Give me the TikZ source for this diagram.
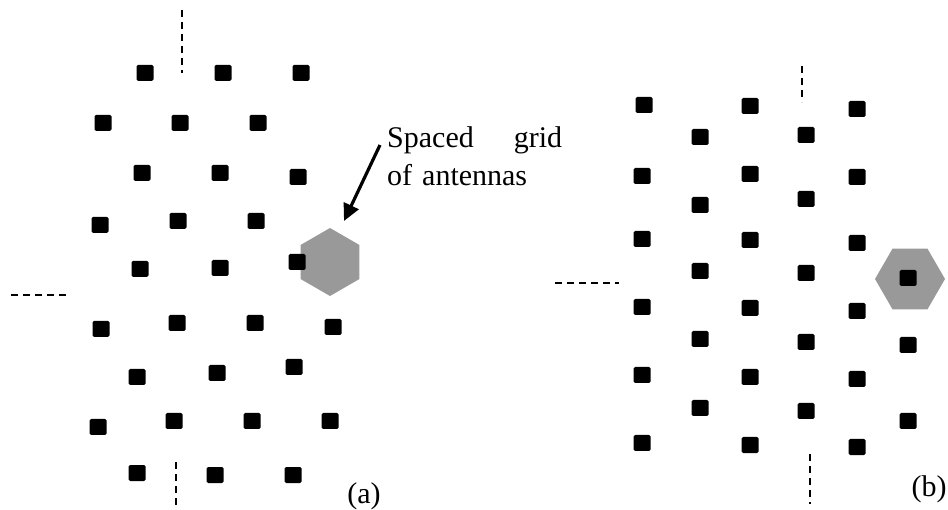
\documentclass[tikz,border=0pt]{standalone}
\usepackage{fontspec}
\setmainfont{Liberation Serif}
\usetikzlibrary{arrows.meta}
\definecolor{hexgray}{RGB}{153,153,153}
\tikzset{
  ant/.style={fill=black, minimum width=17pt, minimum height=16pt, inner sep=0pt, rounded corners=1.5pt},
  hexfill/.style={fill=hexgray},
  axisdash/.style={draw=black, line width=1.7pt, dash pattern=on 7pt off 5pt},
  lbl/.style={inner sep=0pt, font=\fontsize{30pt}{38pt}\selectfont},
  pointer/.style={line width=3.2pt, -{Triangle[length=17pt,width=16pt]}}
}
\begin{document}
\begin{tikzpicture}[x=1pt,y=-1pt]
\useasboundingbox (0,0) rectangle (948,510);
% hexagon centres
\coordinate (hexa) at (330,262);
\coordinate (hexb) at (910,279);
\fill[hexfill, shift={(hexa)}] (90:34) -- (30:34) -- (-30:34) -- (-90:34) -- (-150:34) -- (150:34) -- cycle;
\fill[hexfill, shift={(hexb)}] (0:35) -- (60:35) -- (120:35) -- (180:35) -- (240:35) -- (300:35) -- cycle;
% panel (a) antennas
\foreach \x/\y [count=\i] in {
  145/73, 223/73, 301/73,
  103/123, 180/123, 258/123,
  142/173, 220/173, 298/177,
  100/225, 178/221, 256/221,
  140/269, 220/268, 297/262,
  101/329, 177/323, 255/323, 333/327,
  137/377, 217/373, 294/367,
  98/427, 174/421, 252/421, 330/421,
  137/473, 215/475, 293/475}
  \node[ant] (a\i) at (\x,\y) {};
% panel (b) antennas
\foreach \x/\y [count=\i] in {
  644/105, 750/106, 857/109,
  700/137, 806/135,
  642/176, 750/174, 857/177,
  700/205, 806/199,
  642/239, 750/240, 857/243,
  700/271, 806/273, 908/278,
  642/307, 750/308, 857/311,
  700/339, 806/342, 908/345,
  642/375, 750/377, 857/379,
  700/408, 806/411, 908/421,
  642/443, 750/445, 857/447}
  \node[ant] (b\i) at (\x,\y) {};
% dashed axes
\coordinate (at1) at (182,10);  \coordinate (at2) at (182,73);
\coordinate (al1) at (11,295);  \coordinate (al2) at (69,295);
\coordinate (ab1) at (176,462); \coordinate (ab2) at (176,507);
\coordinate (bt1) at (802,66);  \coordinate (bt2) at (802,102);
\coordinate (bl1) at (555,283); \coordinate (bl2) at (619,283);
\coordinate (bb1) at (810,454); \coordinate (bb2) at (810,504);
\draw[axisdash] (at1) -- (at2);
\draw[axisdash] (al1) -- (al2);
\draw[axisdash] (ab1) -- (ab2);
\draw[axisdash] (bt1) -- (bt2);
\draw[axisdash] (bl1) -- (bl2);
\draw[axisdash] (bb1) -- (bb2);
% label and arrow
\node[lbl, anchor=north west, text width=175pt, align=left] (note) at (387,126) {Spaced\hfill grid\\of antennas};
\coordinate (ptail) at (380,145);
\coordinate (ptip) at (344,221);
\draw[pointer] (ptail) -- (ptip);
% panel captions
\node[lbl] (capa) at (364,496) {(a)};
\node[lbl] (capb) at (929,489) {(b)};
\end{tikzpicture}
\end{document}
